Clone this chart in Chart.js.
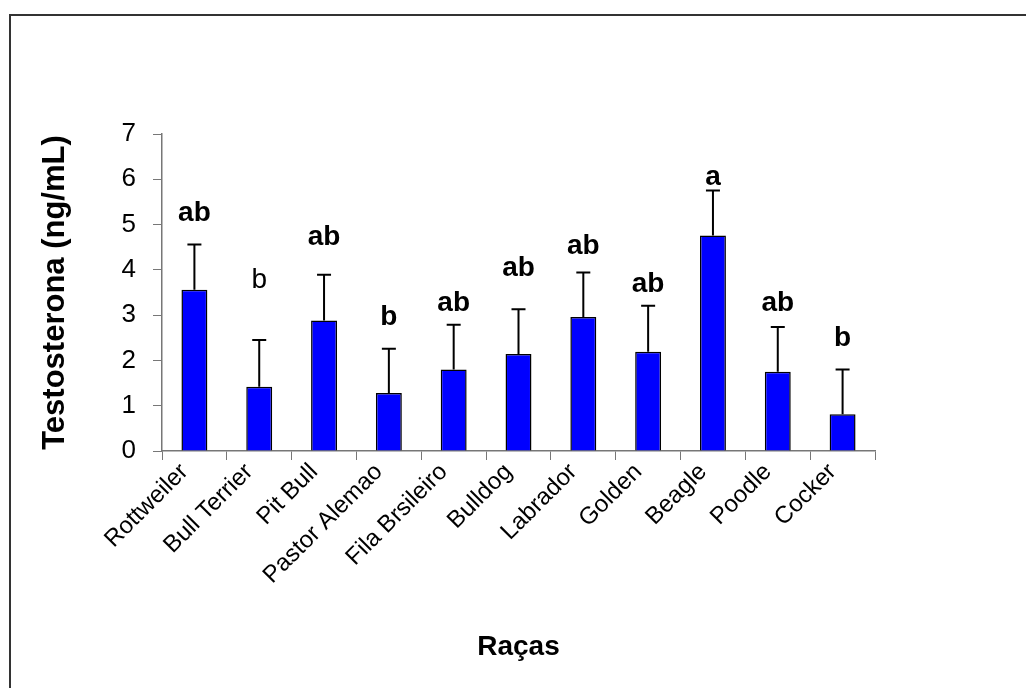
<!DOCTYPE html>
<html lang="pt">
<head>
    <meta charset="UTF-8">
    <title>Testosterona por raça</title>
    <script src="https://cdn.jsdelivr.net/npm/chart.js"></script>
    <style>
        html, body { margin: 0; padding: 0; background: #fff; }
        #wrap { width: 1026px; height: 688px; }
    </style>
</head>
<body>
    <div id="wrap">
        <canvas id="testChart" width="1026" height="688"></canvas>
    </div>

    <script>
        // values
        const racas = ['Rottweiler', 'Bull Terrier', 'Pit Bull', 'Pastor Alemao', 'Fila Brsileiro',
                       'Bulldog', 'Labrador', 'Golden', 'Beagle', 'Poodle', 'Cocker'];
        const testosterona = [3.56, 1.42, 2.88, 1.28, 1.80, 2.14, 2.96, 2.19, 4.76, 1.75, 0.81];
        const erro = [1.00, 1.03, 1.01, 0.98, 0.99, 0.99, 0.98, 1.02, 0.99, 0.99, 0.99];
        const letras = ['ab', 'b', 'ab', 'b', 'ab', 'ab', 'ab', 'ab', 'a', 'ab', 'b'];
        const letrasY = [5.24, 3.76, 4.73, 2.96, 3.27, 4.03, 4.51, 3.69, 6.04, 3.27, 2.50];

        const FONT = "'Liberation Sans', Arial, sans-serif";
        const AXIS_GRAY = '#777777';

        // outer frame (right / bottom edges fall outside the picture)
        const framePlugin = {
            id: 'frame',
            beforeDraw(chart) {
                const ctx = chart.ctx;
                ctx.save();
                ctx.strokeStyle = '#333333';
                ctx.lineWidth = 2;
                ctx.strokeRect(10, 15, 1100, 800);
                ctx.restore();
            }
        };

        // error bars (upper only) + letters of significance
        const extrasPlugin = {
            id: 'extras',
            afterDatasetsDraw(chart) {
                const ctx = chart.ctx;
                const x = chart.scales.x, y = chart.scales.y;
                ctx.save();
                ctx.strokeStyle = '#000';
                ctx.lineWidth = 2;
                testosterona.forEach((v, i) => {
                    const px = x.getPixelForValue(i);
                    const y0 = y.getPixelForValue(v);
                    const y1 = y.getPixelForValue(v + erro[i]);
                    ctx.beginPath();
                    ctx.moveTo(px, y0);
                    ctx.lineTo(px, y1);
                    ctx.moveTo(px - 7, y1);
                    ctx.lineTo(px + 7, y1);
                    ctx.stroke();
                });
                ctx.fillStyle = '#000';
                ctx.textAlign = 'center';
                ctx.textBaseline = 'middle';
                letras.forEach((t, i) => {
                    const weight = i === 1 ? 'normal' : 'bold';
                    ctx.font = weight + ' 28px ' + FONT;
                    ctx.fillText(t, x.getPixelForValue(i), y.getPixelForValue(letrasY[i]));
                });
                ctx.restore();
            }
        };

        const ctx = document.getElementById('testChart').getContext('2d');
        new Chart(ctx, {
            type: 'bar',
            data: {
                labels: racas,
                datasets: [{
                    label: 'Testosterona',
                    data: testosterona,
                    backgroundColor: '#0000ff',
                    borderColor: '#000000',
                    borderWidth: 1.5,
                    barPercentage: 0.4,
                    categoryPercentage: 1.0
                }]
            },
            options: {
                responsive: false,
                animation: false,
                layout: { padding: { left: 0, top: 134, right: 151, bottom: 0 } },
                plugins: {
                    legend: { display: false },
                    tooltip: { enabled: false }
                },
                scales: {
                    x: {
                        afterFit: (scale) => { scale.height = 237; },
                        grid: {
                            drawOnChartArea: false,
                            drawTicks: true,
                            tickLength: 9,
                            color: AXIS_GRAY,
                            offset: true
                        },
                        border: { display: true, color: AXIS_GRAY, width: 1.5 },
                        ticks: {
                            color: '#000',
                            font: { family: FONT, size: 24 },
                            maxRotation: 45,
                            minRotation: 45,
                            autoSkip: false,
                            labelOffset: -10,
                            padding: -2
                        },
                        title: {
                            display: true,
                            text: 'Raças',
                            color: '#000',
                            font: { family: FONT, size: 28, weight: 'bold' },
                            padding: { top: 0, bottom: 24 }
                        }
                    },
                    y: {
                        min: 0,
                        max: 7,
                        afterFit: (scale) => { scale.width = 162; },
                        grid: {
                            drawOnChartArea: false,
                            drawTicks: true,
                            tickLength: 9,
                            color: AXIS_GRAY
                        },
                        border: { display: true, color: AXIS_GRAY, width: 1.5 },
                        ticks: {
                            stepSize: 1,
                            color: '#000',
                            font: { family: FONT, size: 26 },
                            padding: 17
                        },
                        title: {
                            display: true,
                            text: 'Testosterona (ng/mL)',
                            color: '#000',
                            font: { family: FONT, size: 31, weight: 'bold' },
                            padding: { top: 37, bottom: 0 }
                        }
                    }
                }
            },
            plugins: [framePlugin, extrasPlugin]
        });
    </script>
</body>
</html>
